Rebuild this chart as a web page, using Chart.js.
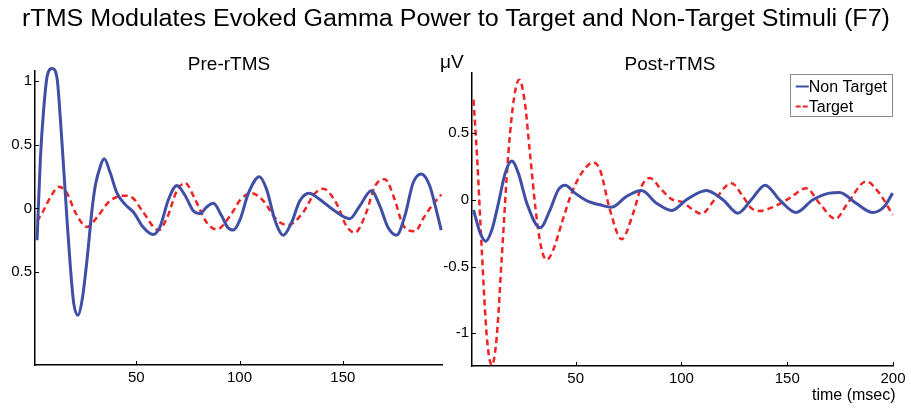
<!DOCTYPE html>
<html>
<head>
<meta charset="utf-8">
<title>rTMS Gamma Power</title>
<script src="https://cdn.jsdelivr.net/npm/chart.js@4.4.1/dist/chart.umd.min.js"></script>
<style>
    body { margin: 0; background: #fff; font-family: "Liberation Sans", Arial, sans-serif; color: #000; }
    #page { position: relative; width: 911px; height: 409px; overflow: hidden; }
    canvas { position: absolute; top: 0; }
    .txt { position: absolute; white-space: nowrap; line-height: normal; }
    #title { left: 0; width: 911px; top: 5px; text-align: center; font-size: 23px; }
    #title span { display: inline-block; transform-origin: center; }
    .panelTitle { top: 53px; font-size: 19px; transform: translateX(-50%); }
</style>
</head>
<body>
<div id="page">
    <canvas id="preChart" width="450" height="409" style="left:0"></canvas>
    <canvas id="postChart" width="481" height="409" style="left:430px"></canvas>
    <div class="txt" id="title"><span id="titleText">rTMS Modulates Evoked Gamma Power to Target and Non-Target Stimuli (F7)</span></div>
    <div class="txt panelTitle" style="left:229px">Pre-rTMS</div>
    <div class="txt panelTitle" style="left:670px">Post-rTMS</div>
    <div class="txt" style="left:440px; top:51px; font-size:19px">μV</div>
    <div class="txt" style="left:812px; top:386px; font-size:16px">time (msec)</div>
</div>

<script>
// DATA (time in msec, amplitude in µV)
const preTimeNonTarget = [2, 3.6, 5.2, 6.9, 9.3, 11.7, 13.3, 14.9, 16.5, 18.1, 19.7, 21.8, 23.8, 26.2, 28.6, 30.2, 32.6, 34.5, 37.4, 40.7,
    44.7, 48.7, 53.5, 58.1, 61.6, 65.6, 69.7, 73.7, 77.7, 80.9, 84, 87.3, 91.4, 94.3, 97, 100.2, 104.3, 109.6, 113.1, 117.1,
    121.2, 125.2, 129.2, 133.7, 138.9, 145.3, 153.4, 158.2, 163.8, 167.9, 171.9, 176, 180, 184, 188, 192, 195.2, 197.6];
const preNonTarget = [-0.25, 0.39, 0.78, 1.04, 1.10, 1.02, 0.70, 0.31, -0.09, -0.455, -0.74, -0.84, -0.72, -0.40, -0.01, 0.18, 0.33, 0.39, 0.28, 0.12,
    0.03, -0.03, -0.15, -0.205, -0.14, 0.07, 0.18, 0.10, -0.02, -0.04, 0.01, 0.04, -0.06, -0.15, -0.17, -0.09, 0.12, 0.25, 0.15, -0.09,
    -0.21, -0.11, 0.06, 0.12, 0.07, -0.01, -0.08, 0.02, 0.14, 0.02, -0.15, -0.21, -0.06, 0.20, 0.27, 0.18, -0.01, -0.17];

const preTimeTarget = [2, 5, 8.5, 12.5, 16.5, 20.5, 26.2, 31, 36.6, 40.5, 44.7, 48.5, 53, 60.8, 65, 69.7, 73.7, 78.5, 84.1, 89,
    95.4, 100.5, 105.9, 111.5, 118, 123.6, 130.8, 136, 140.5, 146.9, 151.8, 155.8, 161.4, 165.4, 170.3, 175.1, 179.1, 184.8, 189.6, 194, 197.7];
const preTarget = [-0.10, -0.02, 0.09, 0.17, 0.12, -0.03, -0.145, -0.07, 0.05, 0.09, 0.10, 0.08, -0.02, -0.17, -0.07, 0.14, 0.20, 0.07, -0.11, -0.165,
    -0.06, 0.07, 0.12, 0.06, -0.09, -0.13, -0.03, 0.11, 0.155, 0.04, -0.14, -0.19, -0.03, 0.17, 0.23, 0.07, -0.13, -0.18, -0.06, 0.04, 0.11];

const postTimeNonTarget = [1.7, 4.9, 7.5, 10.4, 13.5, 16.7, 19.8, 22.9, 26.9, 33.2, 37.9, 41.8, 45, 49.7, 55.9, 61.5, 67, 74, 81.1, 88.2,
    95.3, 102.4, 111.8, 119.6, 126.7, 133, 139.6, 146.4, 154.2, 162.1, 170, 174.7, 182.5, 190.4, 195.9, 199.8];
const postNonTarget = [-0.075, -0.25, -0.31, -0.225, -0.025, 0.2, 0.29, 0.2, -0.025, -0.21, -0.075, 0.075, 0.11, 0.05, -0.0125, -0.0375, -0.055, 0.025, 0.07, -0.025,
    -0.08, 0, 0.07, 0, -0.1, 0, 0.11, 0, -0.095, 0, 0.05, 0.055, -0.025, -0.095, -0.05, 0.05];

const postTimeTarget = [1.7, 3.3, 5.7, 8, 10.4, 12.7, 15.1, 18.2, 21, 23.3, 25.8, 28.4, 31.1, 33.6, 36.3, 39.4, 43.4, 48.1, 52.8, 58.3,
    61.5, 66.2, 71.7, 77.2, 81.1, 85, 90.6, 95.3, 100.8, 105.5, 109.4, 115.7, 123.6, 129.1, 133, 136.9, 143.2, 151.1, 159, 165.2,
    172.8, 178.6, 187.3, 193.5, 199.8];
const postTarget = [0.75, 0.35, -0.4, -1.025, -1.24, -1.025, -0.425, 0.35, 0.775, 0.9, 0.75, 0.35, -0.075, -0.35, -0.45, -0.375, -0.175, 0.05, 0.2, 0.28,
    0.225, -0.075, -0.295, -0.1, 0.1, 0.163, 0.075, 0.005, -0.02, -0.075, -0.105, 0, 0.125, 0.025, -0.0625, -0.083, -0.055, 0.0125, 0.0875, -0.025,
    -0.1425, -0.025, 0.1375, 0.05, -0.1125];

// TICKS
const preXTicks = [50, 100, 150];
const preYTicks = [1, 0.5, 0, -0.5];
const preYLabels = ['1', '0.5', '0', '0.5'];   // the original drops the minus sign
const postXTicks = [50, 100, 150, 200];
const postYTicks = [0.5, 0, -0.5, -1];
const postYLabels = ['0.5', '0', '-0.5', '-1'];

const seriesNames = ['Non Target', 'Target'];
const BLUE = '#3f4fa6';
const RED = '#f02424';
const FONT = '"Liberation Sans", Arial, sans-serif';

// TITLE WIDTH FIT
const titleText = document.getElementById('titleText');
titleText.style.transform = 'scaleX(' + (868 / titleText.getBoundingClientRect().width) + ')';

function toPoints(xs, ys) {
    return xs.map((x, i) => ({ x: x, y: ys[i] }));
}

// MATLAB style ticks pointing into the axes
const inwardTicks = {
    id: 'inwardTicks',
    afterDatasetsDraw(chart) {
        const { ctx, chartArea, scales } = chart;
        ctx.save();
        ctx.strokeStyle = '#000';
        ctx.lineWidth = 1;
        scales.x.ticks.forEach(t => {
            const px = Math.round(scales.x.getPixelForValue(t.value)) + 0.5;
            ctx.beginPath();
            ctx.moveTo(px, chartArea.bottom);
            ctx.lineTo(px, chartArea.bottom - 4);
            ctx.stroke();
        });
        scales.y.ticks.forEach(t => {
            const py = Math.round(scales.y.getPixelForValue(t.value)) + 0.5;
            ctx.beginPath();
            ctx.moveTo(chartArea.left, py);
            ctx.lineTo(chartArea.left + 4, py);
            ctx.stroke();
        });
        ctx.restore();
    }
};

// LEGEND WITH BOX (top right, inside axes)
const boxLegend = {
    id: 'boxLegend',
    afterDraw(chart, args, opts) {
        if (!opts.show) return;
        const { ctx, chartArea } = chart;
        const sets = chart.data.datasets;
        ctx.save();
        ctx.font = '16px ' + FONT;
        const textW = Math.max(...sets.map(d => ctx.measureText(d.label).width));
        const w = 19 + textW + 5;
        const h = 42;
        const left = chartArea.right - 1 - w;
        const top = chartArea.top + 1;
        ctx.fillStyle = '#fff';
        ctx.fillRect(left, top, w, h);
        ctx.strokeStyle = '#8a8a8a';
        ctx.lineWidth = 1;
        ctx.strokeRect(Math.round(left) + 0.5, Math.round(top) + 0.5, Math.round(w), h);
        sets.forEach((d, i) => {
            const cy = top + 12.5 + i * 20;
            ctx.strokeStyle = d.borderColor;
            ctx.lineWidth = 2;
            ctx.setLineDash(d.borderDash ? [5, 2] : []);
            ctx.beginPath();
            ctx.moveTo(left + 6, cy);
            ctx.lineTo(left + 19, cy);
            ctx.stroke();
            ctx.setLineDash([]);
            ctx.fillStyle = '#000';
            ctx.textBaseline = 'middle';
            ctx.fillText(d.label, left + 19, cy + 1);
        });
        ctx.restore();
    }
};

function makePanel(id, p) {
    const tickFont = { family: FONT, size: 15 };
    return new Chart(document.getElementById(id), {
        type: 'line',
        data: {
            datasets: [{
                label: seriesNames[0],
                data: toPoints(p.ntTime, p.nt),
                borderColor: BLUE,
                borderWidth: 3,
                pointRadius: 0,
                cubicInterpolationMode: 'monotone',
                fill: false,
                clip: false
            }, {
                label: seriesNames[1],
                data: toPoints(p.tTime, p.t),
                borderColor: RED,
                borderWidth: 2.5,
                borderDash: [6, 4],
                pointRadius: 0,
                cubicInterpolationMode: 'monotone',
                fill: false,
                clip: false
            }]
        },
        options: {
            responsive: false,
            animation: false,
            events: [],
            layout: { padding: p.padding },
            scales: {
                x: {
                    type: 'linear',
                    min: p.xMin,
                    max: p.xMax,
                    afterBuildTicks: s => { s.ticks = p.xTicks.map(v => ({ value: v })); },
                    afterFit: s => { s.height = p.xHeight; },
                    ticks: { callback: v => String(v), color: '#000', font: tickFont, padding: 4, maxRotation: 0, autoSkip: false },
                    grid: { display: false, drawTicks: false },
                    border: { color: '#000', width: 1.5 }
                },
                y: {
                    type: 'linear',
                    min: p.yMin,
                    max: p.yMax,
                    afterBuildTicks: s => { s.ticks = p.yTicks.map(v => ({ value: v })); },
                    afterFit: s => { s.width = p.yWidth; },
                    ticks: { callback: (v, i) => p.yLabels[i], color: '#000', font: tickFont, padding: 3, autoSkip: false },
                    grid: { display: false, drawTicks: false },
                    border: { color: '#000', width: 1.5 }
                }
            },
            plugins: {
                legend: { display: false },
                tooltip: { enabled: false },
                title: { display: false },
                boxLegend: { show: p.legend }
            }
        },
        plugins: [inwardTicks, boxLegend]
    });
}

// PRE-rTMS
makePanel('preChart', {
    ntTime: preTimeNonTarget, nt: preNonTarget,
    tTime: preTimeTarget, t: preTarget,
    xMin: 1, xMax: 198, yMin: -1.23, yMax: 1.08,
    xTicks: preXTicks, yTicks: preYTicks, yLabels: preYLabels,
    padding: { top: 71, right: 8, bottom: 0, left: 0 },
    yWidth: 35, xHeight: 44,
    legend: false
});

// POST-rTMS
makePanel('postChart', {
    ntTime: postTimeNonTarget, nt: postNonTarget,
    tTime: postTimeTarget, t: postTarget,
    xMin: 1, xMax: 200, yMin: -1.245, yMax: 0.95,
    xTicks: postXTicks, yTicks: postYTicks, yLabels: postYLabels,
    padding: { top: 73, right: 18, bottom: 0, left: 0 },
    yWidth: 42, xHeight: 43,
    legend: true
});
</script>
</body>
</html>
